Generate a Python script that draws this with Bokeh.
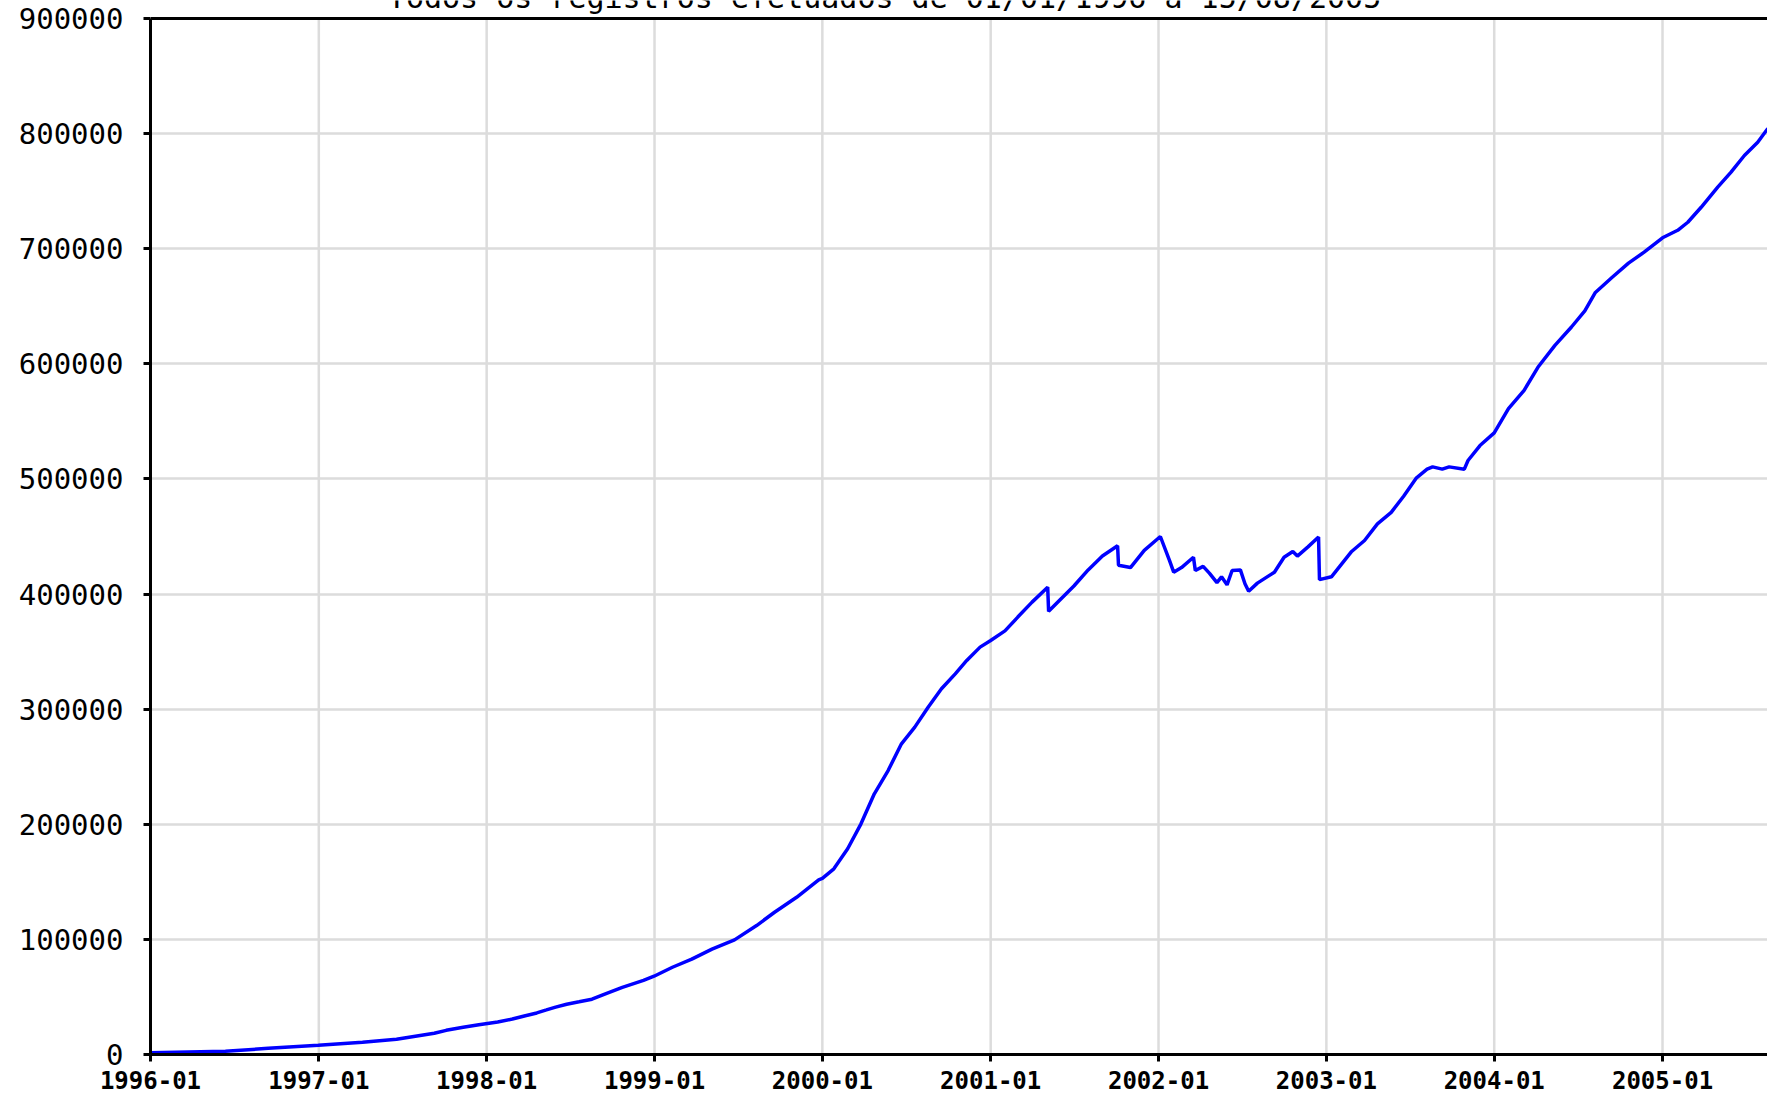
import pandas as pd
from bokeh.plotting import figure
from bokeh.models import (Range1d, FixedTicker, DatetimeTickFormatter, Span,
                          BasicTickFormatter)
from bokeh.core.properties import value
from bokeh.embed import file_html
from bokeh.resources import INLINE

# ---- data ----
dates = [
    "1996-01-01", "1996-06-12", "1996-09-13", "1996-12-31", "1997-04-06", "1997-06-19",
    "1997-07-30", "1997-09-09", "1997-10-05", "1997-11-11", "1997-12-15", "1998-01-25",
    "1998-02-26", "1998-03-24", "1998-04-20", "1998-05-11", "1998-05-31", "1998-06-24",
    "1998-07-21", "1998-08-18", "1998-09-19", "1998-10-23", "1998-12-08", "1998-12-31",
    "1999-02-09", "1999-03-23", "1999-05-06", "1999-06-24", "1999-08-11", "1999-09-19",
    "1999-11-06", "1999-12-24", "2000-01-01", "2000-01-26", "2000-02-25", "2000-03-25",
    "2000-04-23", "2000-05-23", "2000-06-21", "2000-07-20", "2000-08-18", "2000-09-16",
    "2000-10-16", "2000-11-10", "2000-12-09", "2001-01-01", "2001-02-01", "2001-03-01",
    "2001-04-01", "2001-05-05", "2001-05-07", "2001-06-01", "2001-07-01", "2001-08-01",
    "2001-09-01", "2001-10-04", "2001-10-06", "2001-11-01", "2001-12-01", "2002-01-05",
    "2002-01-25", "2002-02-03", "2002-02-20", "2002-03-18", "2002-03-22", "2002-04-08",
    "2002-04-22", "2002-05-08", "2002-05-18", "2002-05-30", "2002-06-10", "2002-06-28",
    "2002-07-08", "2002-07-16", "2002-08-04", "2002-09-10", "2002-10-01", "2002-10-20",
    "2002-10-30", "2002-11-22", "2002-12-15", "2002-12-17", "2003-01-12", "2003-02-03",
    "2003-02-25", "2003-03-25", "2003-04-22", "2003-05-22", "2003-06-18", "2003-07-16",
    "2003-08-08", "2003-08-20", "2003-09-10", "2003-09-25", "2003-10-28", "2003-11-05",
    "2003-12-01", "2004-01-01", "2004-02-01", "2004-03-06", "2004-04-05", "2004-05-12",
    "2004-06-17", "2004-07-16", "2004-08-08", "2004-09-13", "2004-10-19", "2004-11-22",
    "2005-01-01", "2005-02-03", "2005-02-25", "2005-03-26", "2005-05-01", "2005-05-30",
    "2005-06-28", "2005-07-27", "2005-08-18",
]
registros = [
    1500, 2800, 5400, 8000, 10600, 13200,
    15800, 18400, 21000, 23600, 25900, 28200,
    30800, 33500, 36100, 38700, 41200, 43700,
    45800, 48000, 53100, 58300, 64400, 68000,
    75800, 82800, 91500, 99600, 112000, 123600,
    136600, 151700, 153000, 161300, 178700, 200400,
    226500, 246700, 269900, 284400, 301700, 317700,
    330700, 342300, 353900, 359700, 368000, 380000,
    393000, 406000, 385000, 395000, 407000, 421000,
    433000, 442000, 425000, 423000, 438000, 450000,
    429000, 419000, 423000, 432000, 420500, 424000,
    418000, 410000, 415000, 408000, 420500, 421000,
    409000, 402500, 409500, 419000, 432000, 437000,
    433000, 441000, 449500, 412500, 415000, 426000,
    437000, 446500, 461000, 471000, 485000, 501000,
    508500, 510500, 508500, 510500, 508500, 516000,
    529000, 540000, 561000, 577000, 597000, 616000,
    632000, 646000, 662000, 675000, 687500, 697000,
    709500, 716000, 723000, 736000, 753500, 766500,
    781000, 792500, 804500,
]
year_ticks = ["1996-01-01", "1997-01-01", "1998-01-01", "1999-01-01", "2000-01-01",
              "2001-01-01", "2002-01-01", "2003-01-01", "2004-01-01", "2005-01-01"]
y_ticks = [0, 100000, 200000, 300000, 400000, 500000, 600000, 700000, 800000, 900000]
y_max = 900000
title_text = "Todos os registros efetuados de 01/01/1996 a 15/08/2005"

# ---- figure ----
x = pd.to_datetime(dates)
xt = pd.to_datetime(year_ticks)
start = pd.Timestamp("1996-01-01")
end = start + pd.Timedelta(days=9.627 * 365.25)
px_per_unit = 1036 / y_max          # frame pixels per registro
top_extra = 18 / px_per_unit        # room above the top line, where the title is cut off

p = figure(width=1767, height=1098, x_axis_type="datetime",
           x_range=Range1d(start=start, end=end),
           y_range=Range1d(start=0, end=y_max + top_extra),
           output_backend="svg", toolbar_location=None,
           min_border_left=150, min_border_right=0, min_border_top=0, min_border_bottom=44)
p.outline_line_color = None
p.background_fill_color = "white"
p.border_fill_color = "white"

# vertical grid lines stop at the top line
p.xgrid.visible = False
p.segment(x0=xt, y0=[0] * len(xt), x1=xt, y1=[y_max] * len(xt),
          line_color="#dcdcdc", line_width=2.5)

p.line(x, registros, line_color="#0000ff", line_width=3.5)

# top frame line
p.add_layout(Span(location=y_max, dimension="width", line_color="black", line_width=3))

# axes
tick_ms = [t.timestamp() * 1000 for t in xt]
p.xaxis.ticker = FixedTicker(ticks=tick_ms)
fmt = "%Y-%m"
p.xaxis.formatter = DatetimeTickFormatter(years=fmt, months=fmt, days=fmt, hours=fmt,
                                          minutes=fmt, seconds=fmt, milliseconds=fmt,
                                          microseconds=fmt, hourmin=fmt, minsec=fmt)
p.yaxis.ticker = FixedTicker(ticks=y_ticks)
p.yaxis.formatter = BasicTickFormatter(use_scientific=False)
p.yaxis.bounds = (0, y_max)

for ax in (p.xaxis[0], p.yaxis[0]):
    ax.axis_line_color = "black"
    ax.axis_line_width = 3
    ax.major_tick_line_color = "black"
    ax.major_tick_line_width = 3
    ax.major_tick_out = 7
    ax.major_tick_in = 0
    ax.minor_tick_line_color = None
    ax.major_label_text_color = "black"

p.xaxis.major_label_text_font = "DejaVu Sans Mono"
p.xaxis.major_label_text_font_style = "bold"
p.xaxis.major_label_text_font_size = "24px"
p.xaxis.major_label_standoff = 9

p.yaxis.major_label_text_font = "DejaVu Sans Mono"
p.yaxis.major_label_text_font_style = "normal"
p.yaxis.major_label_text_font_size = "29px"
p.yaxis.major_label_standoff = 20

p.ygrid.grid_line_color = "#dcdcdc"
p.ygrid.grid_line_width = 2.5

# title (cut off at the top of the picture, as in the reference)
center = start + pd.Timedelta(days=4.370 * 365.25)
p.text(x=[center], y=[y_max + 21 / px_per_unit], text=[title_text],
       text_align="center", text_baseline="alphabetic",
       text_font=value("DejaVu Sans Mono"), text_font_size="30px", text_color="black")

open("out.html", "w").write(file_html(p, INLINE))
